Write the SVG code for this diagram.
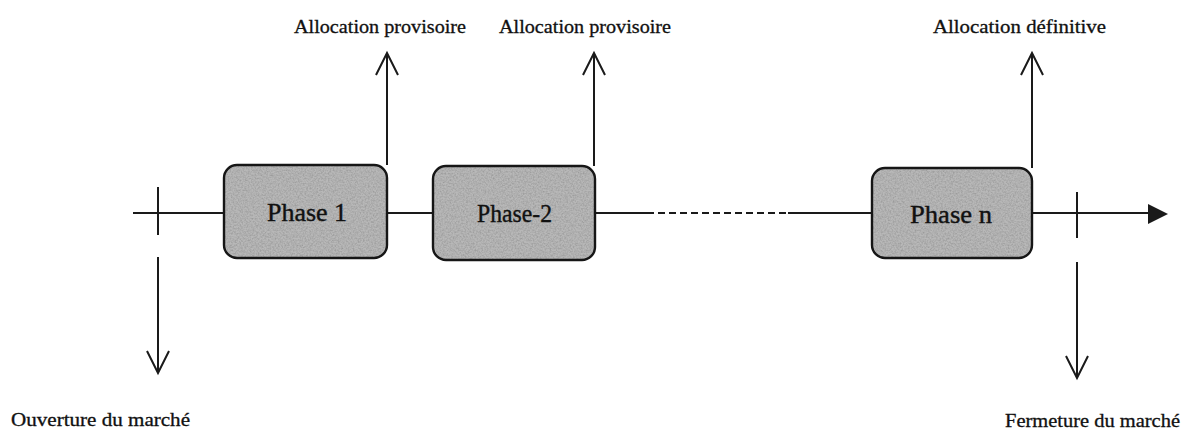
<svg xmlns="http://www.w3.org/2000/svg" width="1182" height="432" viewBox="0 0 1182 432">
  <style>
    .ln { stroke: #1a1a1a; stroke-width: 2; fill: none; stroke-linecap: butt; }
    .head { stroke: #1a1a1a; stroke-width: 2; fill: none; stroke-linejoin: miter; }
    .boxfill { fill: #b8b8b8; }
    .boxedge { fill: none; stroke: #161616; stroke-width: 2.4; }
    .phase { font-family: "Liberation Serif", "Times New Roman", serif; font-size: 25px; fill: #111; stroke: #111; stroke-width: 0.4; }
    .lbl { font-family: "Liberation Serif", "Times New Roman", serif; font-size: 18px; fill: #111; stroke: #111; stroke-width: 0.3; }
  </style>
  <defs>
    <!-- speckled grey texture for the phase boxes -->
    <filter id="grain" x="0" y="0" width="100%" height="100%">
      <feTurbulence type="fractalNoise" baseFrequency="0.6" numOctaves="3" seed="7" result="noise"/>
      <feColorMatrix in="noise" type="matrix" values="0 0 0 0 0.3  0 0 0 0 0.3  0 0 0 0 0.3  1.6 0 0 0 -0.55" result="spots"/>
      <feComposite in="spots" in2="SourceGraphic" operator="in" result="specks"/>
      <feMerge>
        <feMergeNode in="SourceGraphic"/>
        <feMergeNode in="specks"/>
      </feMerge>
    </filter>
  </defs>

  <rect width="1182" height="432" fill="#ffffff"/>

  <!-- timeline and event arrows -->
  <g id="connectors">
    <!-- main axis -->
    <line class="ln" x1="133" y1="213" x2="224" y2="213"/>
    <line class="ln" x1="387" y1="213" x2="433" y2="213"/>
    <line class="ln" x1="595" y1="213" x2="647" y2="213"/>
    <line class="ln" x1="647" y1="213" x2="788" y2="213" stroke-dasharray="7 4"/>
    <line class="ln" x1="788" y1="213" x2="872" y2="213" stroke="#3c3c3c"/>
    <line class="ln" x1="1032" y1="213" x2="1150" y2="213"/>
    <polygon points="1148,204 1168,214 1148,224" fill="#1a1a1a"/>

    <!-- opening / closing ticks -->
    <line class="ln" x1="158" y1="187" x2="158" y2="235"/>
    <line class="ln" x1="1077" y1="192" x2="1077" y2="238"/>

    <!-- allocation arrows (up) -->
    <line class="ln" x1="387" y1="165" x2="387" y2="53"/>
    <polyline class="head" points="376,75 387,53 398,75"/>
    <line class="ln" x1="594" y1="166" x2="594" y2="53"/>
    <polyline class="head" points="583,75 594,53 605,75"/>
    <line class="ln" x1="1032" y1="168" x2="1032" y2="53"/>
    <polyline class="head" points="1021,75 1032,53 1043,75"/>

    <!-- market opening / closing arrows (down) -->
    <line class="ln" x1="158" y1="257" x2="158" y2="372"/>
    <polyline class="head" points="147,351 158,373 169,351"/>
    <line class="ln" x1="1077" y1="262" x2="1077" y2="377"/>
    <polyline class="head" points="1066,356 1077,378 1088,356"/>
  </g>

  <g id="phase-1">
    <rect class="boxfill" x="224" y="165" width="163" height="93" rx="13" filter="url(#grain)"/>
    <rect class="boxedge" x="224" y="165" width="163" height="93" rx="13"/>
    <text class="phase" x="267" y="221" textLength="80" lengthAdjust="spacingAndGlyphs">Phase 1</text>
  </g>

  <g id="phase-2">
    <rect class="boxfill" x="433" y="166" width="162" height="94" rx="13" filter="url(#grain)"/>
    <rect class="boxedge" x="433" y="166" width="162" height="94" rx="13"/>
    <text class="phase" x="477" y="222" textLength="75" lengthAdjust="spacingAndGlyphs">Phase-2</text>
  </g>

  <g id="phase-n">
    <rect class="boxfill" x="872" y="168" width="160" height="90" rx="13" filter="url(#grain)"/>
    <rect class="boxedge" x="872" y="168" width="160" height="90" rx="13"/>
    <text class="phase" x="910" y="223" textLength="82" lengthAdjust="spacingAndGlyphs">Phase n</text>
  </g>

  <g id="label-alloc-1">
    <text class="lbl" x="294" y="33" textLength="172" lengthAdjust="spacingAndGlyphs">Allocation provisoire</text>
  </g>
  <g id="label-alloc-2">
    <text class="lbl" x="499" y="33" textLength="172" lengthAdjust="spacingAndGlyphs">Allocation provisoire</text>
  </g>
  <g id="label-alloc-final">
    <text class="lbl" x="933" y="33" textLength="173" lengthAdjust="spacingAndGlyphs">Allocation définitive</text>
  </g>
  <g id="label-open">
    <text class="lbl" x="11" y="426" textLength="179" lengthAdjust="spacingAndGlyphs">Ouverture du marché</text>
  </g>
  <g id="label-close">
    <text class="lbl" x="1005" y="427" textLength="175" lengthAdjust="spacingAndGlyphs">Fermeture du marché</text>
  </g>
</svg>
